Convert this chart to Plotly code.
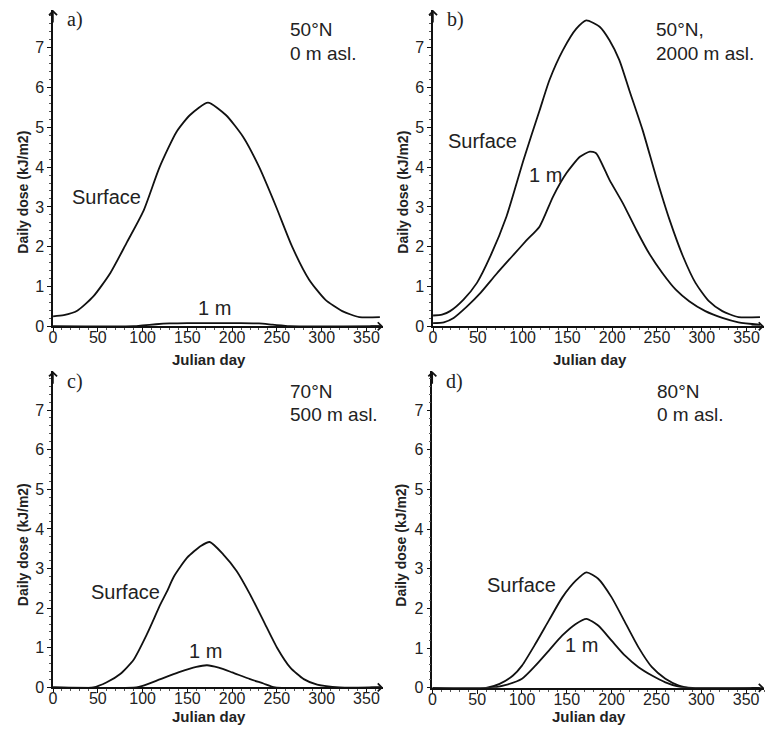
import plotly.graph_objects as go

# ---------------- data ----------------
a_surf_day = [0, 12, 27, 45, 64, 82, 101, 119, 138, 153, 173, 193, 212, 230, 249, 267, 286, 304, 323, 342, 365]
a_surf_val = [0.25, 0.28, 0.39, 0.75, 1.34, 2.09, 2.9, 4.0, 4.89, 5.31, 5.62, 5.31, 4.77, 4.01, 3.01, 2.0, 1.17, 0.67, 0.38, 0.23, 0.23]
a_1m_day = [0, 90, 100, 115, 130, 150, 170, 190, 210, 230, 245, 255, 265, 365]
a_1m_val = [0, 0, 0.02, 0.05, 0.07, 0.08, 0.08, 0.08, 0.08, 0.07, 0.04, 0.02, 0, 0]

b_surf_day = [0, 10, 19, 34, 49, 64, 82, 101, 119, 130, 145, 160, 171, 186, 197, 208, 219, 234, 249, 264, 279, 293, 308, 323, 341, 365]
b_surf_val = [0.27, 0.29, 0.38, 0.67, 1.09, 1.76, 2.76, 4.18, 5.43, 6.19, 6.94, 7.48, 7.69, 7.53, 7.19, 6.69, 5.94, 4.93, 3.76, 2.68, 1.76, 1.09, 0.63, 0.38, 0.23, 0.23]
b_1m_day = [0, 12, 23, 38, 53, 71, 90, 104, 119, 134, 149, 164, 175, 182, 197, 212, 227, 241, 256, 271, 286, 304, 323, 341, 365]
b_1m_val = [0.08, 0.1, 0.21, 0.5, 0.84, 1.32, 1.8, 2.15, 2.51, 3.26, 3.85, 4.26, 4.39, 4.35, 3.68, 3.09, 2.42, 1.84, 1.34, 0.92, 0.63, 0.38, 0.21, 0.1, 0.04]

c_surf_day = [0, 45, 60, 75, 90, 105, 120, 127, 135, 150, 165, 175, 190, 205, 220, 235, 250, 265, 280, 295, 320, 365]
c_surf_val = [0, 0, 0.13, 0.34, 0.7, 1.35, 2.1, 2.41, 2.8, 3.28, 3.57, 3.67, 3.36, 2.94, 2.35, 1.68, 1.01, 0.5, 0.21, 0.07, 0, 0]
c_1m_day = [0, 93, 100, 120, 140, 160, 172, 185, 200, 220, 235, 248, 365]
c_1m_val = [0, 0, 0.04, 0.21, 0.38, 0.52, 0.56, 0.5, 0.38, 0.21, 0.1, 0, 0]

d_surf_day = [0, 60, 75, 90, 100, 115, 130, 145, 160, 172, 185, 200, 215, 230, 245, 260, 275, 290, 365]
d_surf_val = [0, 0, 0.1, 0.31, 0.56, 1.11, 1.7, 2.28, 2.7, 2.91, 2.75, 2.28, 1.65, 1.02, 0.52, 0.23, 0.06, 0, 0]
d_1m_day = [0, 65, 80, 100, 115, 130, 145, 160, 172, 185, 200, 215, 230, 245, 260, 275, 285, 365]
d_1m_val = [0, 0, 0.06, 0.23, 0.56, 0.94, 1.32, 1.61, 1.74, 1.57, 1.19, 0.81, 0.52, 0.31, 0.14, 0.03, 0, 0]

x_ticks = [0, 50, 100, 150, 200, 250, 300, 350]
y_ticks = [0, 1, 2, 3, 4, 5, 6, 7]

panel_letters = ["a)", "b)", "c)", "d)"]
site_line1 = ["50°N", "50°N,", "70°N", "80°N"]
site_line2 = ["0 m asl.", "2000 m asl.", "500 m asl.", "0 m asl."]
x_title = "Julian day"
y_title = "Daily dose (kJ/m2)"
surf_label = "Surface"
m1_label = "1 m"

# ---------------- layout geometry (reference pixel positions) ----------------
REF_W, REF_H = 765, 731
W, H = 765, 739   # capture is squeezed vertically by ~731/739, so draw slightly taller


def fx(px):
    return px / REF_W


def fy(py):
    return 1 - py / REF_H


panels = [
    dict(sd=a_surf_day, sv=a_surf_val, md=a_1m_day, mv=a_1m_val,
         xdom=[fx(49.3), fx(381)], ydom=[fy(326.7), fy(10)], xmax=368.5, ymax=7.95,
         sl=(60, 3.25), ml=(180, 0.46), sx=262),
    dict(sd=b_surf_day, sv=b_surf_val, md=b_1m_day, mv=b_1m_val,
         xdom=[fx(431.3), fx(764)], ydom=[fy(326.7), fy(10)], xmax=369.5, ymax=7.95,
         sl=(55, 4.66), ml=(126, 3.81), sx=247),
    dict(sd=c_surf_day, sv=c_surf_val, md=c_1m_day, mv=c_1m_val,
         xdom=[fx(49.3), fx(381)], ydom=[fy(688.4), fy(371.7)], xmax=368.5, ymax=7.98,
         sl=(81, 2.41), ml=(170, 0.92), sx=262),
    dict(sd=d_surf_day, sv=d_surf_val, md=d_1m_day, mv=d_1m_val,
         xdom=[fx(430.6), fx(764)], ydom=[fy(688.8), fy(371.7)], xmax=370, ymax=7.98,
         sl=(99, 2.58), ml=(166, 1.09), sx=248),
]

fig = go.Figure()
annotations = []
TXT = "Liberation Sans, Arial, sans-serif"
line_col = "#111111"
txt_col = "#222222"

for i, p in enumerate(panels):
    n = "" if i == 0 else str(i + 1)
    xa, ya = "x" + n, "y" + n
    for dd, vv in ((p["sd"], p["sv"]), (p["md"], p["mv"])):
        fig.add_trace(go.Scatter(x=dd, y=vv, mode="lines", xaxis=xa, yaxis=ya,
                                 line=dict(color=line_col, width=1.8, shape="spline", smoothing=0.6),
                                 showlegend=False, hoverinfo="skip", cliponaxis=False))
    axis_common = dict(showline=True, linecolor=line_col, linewidth=1.6, showgrid=False,
                       zeroline=False, ticks="outside", ticklen=4, tickwidth=1.2,
                       tickcolor=line_col, tickfont=dict(family=TXT, size=16, color=txt_col),
                       minor=dict(ticks="outside", ticklen=2, tickwidth=0.8, tickcolor="#555"))
    fig.layout["xaxis" + n] = dict(axis_common, domain=p["xdom"], range=[0, p["xmax"]],
                                   tickvals=x_ticks, anchor=ya, ticklabelstandoff=-8,
                                   minor=dict(axis_common["minor"], dtick=10))
    fig.layout["yaxis" + n] = dict(axis_common, domain=p["ydom"], range=[0, p["ymax"]],
                                   tickvals=y_ticks, anchor=xa,
                                   minor=dict(axis_common["minor"], dtick=0.2))
    # axis arrows
    annotations.append(dict(xref=xa, yref=ya, x=0, y=p["ymax"], ax=0, ay=14, text="",
                            showarrow=True, arrowhead=4, arrowsize=1.1, arrowwidth=1.4,
                            arrowcolor=line_col))
    annotations.append(dict(xref=xa, yref=ya, x=p["xmax"], y=0, ax=-14, ay=0, text="",
                            showarrow=True, arrowhead=4, arrowsize=1.1, arrowwidth=1.4,
                            arrowcolor=line_col))
    # panel letter
    annotations.append(dict(xref=xa, yref=ya, x=13, y=p["ymax"] - 0.25, text=panel_letters[i],
                            showarrow=False, xanchor="left", yanchor="middle",
                            font=dict(family="Liberation Serif, Times New Roman, serif", size=20, color=txt_col)))
    # site text
    annotations.append(dict(xref=xa, yref=ya, x=p["sx"], y=p["ymax"] - 0.5, text=site_line1[i],
                            showarrow=False, xanchor="left", yanchor="middle",
                            font=dict(family=TXT, size=19, color=txt_col)))
    annotations.append(dict(xref=xa, yref=ya, x=p["sx"], y=p["ymax"] - 1.1, text=site_line2[i],
                            showarrow=False, xanchor="left", yanchor="middle",
                            font=dict(family=TXT, size=19, color=txt_col)))
    # curve labels
    annotations.append(dict(xref=xa, yref=ya, x=p["sl"][0], y=p["sl"][1], text=surf_label,
                            showarrow=False, xanchor="center", yanchor="middle",
                            font=dict(family=TXT, size=20, color=txt_col)))
    annotations.append(dict(xref=xa, yref=ya, x=p["ml"][0], y=p["ml"][1], text=m1_label,
                            showarrow=False, xanchor="center", yanchor="middle",
                            font=dict(family=TXT, size=20, color=txt_col)))

# axis titles (reference pixel positions)
xt_pos = [(206.5, 360), (588.7, 360), (206.5, 717), (588.0, 717)]
yt_pos = [(19, 192), (401, 192), (19, 545), (399.5, 546)]
for (px, py) in xt_pos:
    annotations.append(dict(xref="paper", yref="paper", x=fx(px), y=fy(py), text="<b>" + x_title + "</b>",
                            showarrow=False, xanchor="center", yanchor="middle",
                            font=dict(family=TXT, size=15, color=txt_col)))
for (px, py) in yt_pos:
    annotations.append(dict(xref="paper", yref="paper", x=fx(px), y=fy(py), text="<b>" + y_title + "</b>",
                            showarrow=False, textangle=-90, xanchor="center", yanchor="middle",
                            font=dict(family=TXT, size=14, color=txt_col)))

fig.update_layout(width=W, height=H, margin=dict(l=0, r=0, t=0, b=0),
                  paper_bgcolor="white", plot_bgcolor="white",
                  annotations=annotations, showlegend=False)

# remove the browser's default 8px body margin so the figure fills the window exactly
fig.write_html("out.html", config={"displayModeBar": False},
               post_script="document.body.style.margin='0';document.body.style.overflow='hidden';")
